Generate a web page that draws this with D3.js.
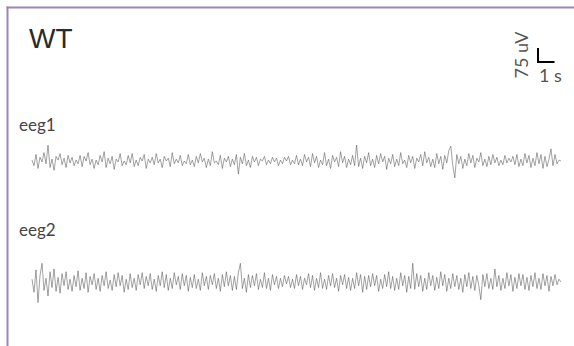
<!DOCTYPE html>
<html><head><meta charset="utf-8">
<script src="https://cdn.jsdelivr.net/npm/d3@7"></script>
<style>body{margin:0;background:#fff}svg{display:block}</style>
</head><body>
<script>
const title = "WT";
const channels = ["eeg1", "eeg2"];
const durationSec = 32;
const scaleBarUV = 75;
const scaleBarSec = 1;

const eeg1 = [
5,-25,35,-40,20,-5,45,-15,85,-35,
10,-50,25,5,40,-20,15,-35,30,-10,
20,-25,5,-15,30,-30,25,0,45,-20,
10,-40,5,-20,30,-5,50,-35,15,-15,
25,-45,10,-5,40,-25,0,-20,30,-10,
40,-30,5,-25,20,0,35,-40,10,-10,
20,-20,40,-10,10,-35,25,0,15,-30,
45,-15,10,-10,30,-25,0,-15,35,-20,
5,-30,25,-10,40,-5,15,-35,10,-25,
50,-10,0,-20,30,-40,15,-5,25,-30,
10,-20,35,-70,20,-15,40,-25,5,-35,
25,-5,20,-25,10,0,25,-20,5,-15,
20,-5,15,-25,5,-15,20,0,25,-20,
5,-15,30,-20,10,-25,35,-5,20,-30,
40,-10,25,-35,5,-20,45,-25,10,-40,
30,-5,20,-30,50,-10,25,-35,10,-20,
30,-25,85,-30,15,-40,25,-10,45,-25,
10,-35,30,-15,40,-5,25,-45,15,-15,
35,-30,10,-25,45,-15,5,-35,30,-10,
25,-40,15,-5,35,-25,50,-10,20,-30,
10,-35,40,-15,25,-45,30,-10,55,80,
-25,-90,35,-15,25,-40,10,-25,40,-10,
30,-35,15,-5,45,-25,10,-30,25,-20,
35,-10,20,-25,5,-20,30,-10,15,-5,
25,-20,35,-30,10,-25,40,-10,30,-35,
15,-25,45,-15,35,-40,25,-30,10,65,
-25,35,-15,5,0];

const eeg2 = [
15,-55,65,-110,35,100,-45,20,-75,55,
-30,70,-50,25,-60,45,-20,55,-40,15,
-50,35,-25,60,-45,20,-35,50,-55,30,
-15,45,-40,20,-50,35,-20,55,-35,10,
-45,40,-25,50,-20,35,-55,15,-40,45,
-30,20,-45,40,-15,50,-35,30,-20,45,
-40,15,-50,35,-20,55,-30,40,-45,20,
-35,50,-15,30,-40,45,-20,35,-50,25,
-30,40,-35,15,-45,50,-20,30,-40,35,
-15,45,-35,20,-50,40,-25,55,-20,35,
-45,30,-40,50,100,-35,20,-55,40,-30,
35,-20,45,-40,15,-30,50,-35,20,-45,
40,-15,30,-35,20,-25,35,-10,30,-30,
15,-35,40,-20,30,-40,20,-15,45,-30,
35,-45,20,-30,50,-35,15,-40,35,-20,
45,-30,20,-50,35,-15,40,-35,25,-45,
20,-35,50,-20,40,-55,30,-40,35,-25,
45,-20,35,-50,15,-35,40,-25,55,-35,
30,-45,20,-40,50,-20,35,-55,30,-35,
100,-40,45,-25,35,-50,20,-40,50,-20,
35,-45,25,-35,55,-20,40,-50,20,-35,
45,-25,35,-40,20,-55,40,-25,50,-35,
30,-45,35,-20,-95,40,-25,45,-35,20,
-40,70,-25,35,-45,20,-35,50,-20,40,
-50,25,-35,45,-20,40,-40,25,-45,35,
-25,50,-35,20,-40,45,-20,35,-50,30,
-20,40,-15,15,0];

const traces = [eeg1, eeg2];
const W = 574, H = 346;
const svg = d3.select("body").append("svg").attr("width", W).attr("height", H);

// frame
const purple = "#9a87b6";
svg.append("line").attr("x1", 6.5).attr("x2", W).attr("y1", 7.5).attr("y2", 7.5)
  .attr("stroke", purple).attr("stroke-width", 2);
svg.append("line").attr("x1", 7.5).attr("x2", 7.5).attr("y1", 6.5).attr("y2", H)
  .attr("stroke", purple).attr("stroke-width", 2);

svg.append("text").attr("x", 29).attr("y", 48).text(title)
  .attr("font-family", "Liberation Sans, Arial, sans-serif").attr("font-size", 28).attr("fill", "#2a2a2a");

const x = d3.scaleLinear().domain([0, durationSec]).range([32, 561]);
const centers = [161, 282];
const labelY = [131, 236];
const uvPx = 14 / 75;

traces.forEach((vals, ci) => {
  const n = vals.length;
  const t = d3.scaleLinear().domain([0, n - 1]).range([0, durationSec]);
  const y = d3.scaleLinear().domain([-150, 150]).range([centers[ci] + 150 * uvPx, centers[ci] - 150 * uvPx]);
  const line = d3.line().x((d, i) => x(t(i))).y(d => y(d));
  svg.append("path").datum(vals).attr("d", line)
    .attr("fill", "none").attr("stroke", "#555").attr("stroke-width", 0.55)
    .attr("stroke-linejoin", "round");
  svg.append("text").attr("x", 19).attr("y", labelY[ci]).text(channels[ci])
    .attr("font-family", "Lato, sans-serif").attr("font-size", 17).attr("fill", "#444");
});

// scale bar
const yb = d3.scaleLinear().domain([0, 75]).range([62, 62 - 75 * uvPx]);
const bx0 = 538, bx1 = bx0 + (x(scaleBarSec) - x(0));
svg.append("path")
  .attr("d", `M${bx0},${yb(scaleBarUV)}L${bx0},${yb(0)}L${bx1},${yb(0)}`)
  .attr("fill", "none").attr("stroke", "#000").attr("stroke-width", 2);
svg.append("text").attr("transform", "translate(528,55) rotate(-90)")
  .attr("text-anchor", "middle").text(scaleBarUV + " uV")
  .attr("font-family", "Lato, sans-serif").attr("font-size", 18).attr("fill", "#555");
svg.append("text").attr("x", 539).attr("y", 82).text(scaleBarSec + " s")
  .attr("font-family", "Lato, sans-serif").attr("font-size", 18).attr("fill", "#555");
</script>
</body></html>
